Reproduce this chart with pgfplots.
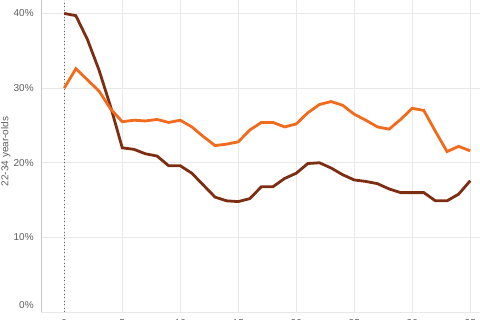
\documentclass[border=0pt]{standalone}
\usepackage{pgfplots}
\pgfplotsset{compat=1.18}
\usepackage{fontspec}
\setmainfont{Liberation Sans}
\definecolor{orangeL}{HTML}{F26B1D}
\definecolor{brownL}{HTML}{7D2E12}
\definecolor{txt}{HTML}{5E5E5E}
\definecolor{gridc}{HTML}{E8E8E8}
\begin{document}
\begin{tikzpicture}
\begin{axis}[
  x=8.7pt, y=5.6pt,
  xmin=-2, xmax=36, ymin=0, ymax=42,
  axis x line=bottom, axis y line=left,
  axis line style={-, draw=gridc!70!gray, line width=0.8pt},
  xtick={0,5,...,35}, ytick={10,20,30,40},
  extra y ticks={0},
  extra y tick style={yticklabel style={yshift=5.2pt}},
  grid=major, major grid style={gridc, line width=0.6pt},
  major tick length=0pt,
  yticklabel={\pgfmathprintnumber{\tick}\%},
  /pgf/number format/assume math mode=true,
  tick label style={font=\fontsize{7.5}{9}\selectfont, text=txt},
  yticklabel style={xshift=-2pt},
  xticklabel style={yshift=-2.2pt},
  clip=false,
]
\addplot[black!60, dotted, line width=0.6pt] coordinates {(0,0) (0,42)};
\addplot[brownL, line width=2.1pt] coordinates {
(0,40.0)(1,39.7)(2,36.5)(3,32.4)(4,27.5)(5,22.0)(6,21.8)(7,21.2)(8,20.9)(9,19.6)
(10,19.6)(11,18.6)(12,17.0)(13,15.4)(14,14.9)(15,14.8)(16,15.2)(17,16.8)(18,16.8)(19,17.9)
(20,18.6)(21,19.9)(22,20.0)(23,19.3)(24,18.4)(25,17.7)(26,17.5)(27,17.2)(28,16.5)(29,16.0)
(30,16.0)(31,16.0)(32,14.9)(33,14.9)(34,15.8)(35,17.6)};
\addplot[orangeL, line width=2.1pt] coordinates {
(0,30.0)(1,32.6)(2,31.1)(3,29.6)(4,27.2)(5,25.5)(6,25.7)(7,25.6)(8,25.8)(9,25.4)
(10,25.7)(11,24.8)(12,23.5)(13,22.3)(14,22.5)(15,22.8)(16,24.4)(17,25.4)(18,25.4)(19,24.8)
(20,25.2)(21,26.7)(22,27.8)(23,28.2)(24,27.7)(25,26.5)(26,25.7)(27,24.8)(28,24.5)(29,25.8)
(30,27.3)(31,27.0)(32,24.2)(33,21.5)(34,22.2)(35,21.6)};
\node[rotate=90, font=\fontsize{7.5}{9}\selectfont, text=txt] at (axis cs:-5.05,21.5) {22-34 year-olds};
\coordinate (bbl) at (axis cs:-5.54,-1.03);
\coordinate (btr) at (axis cs:35.84,41.8);
\end{axis}
\pgfresetboundingbox
\path[use as bounding box] (bbl) rectangle (btr);
\end{tikzpicture}
\end{document}
